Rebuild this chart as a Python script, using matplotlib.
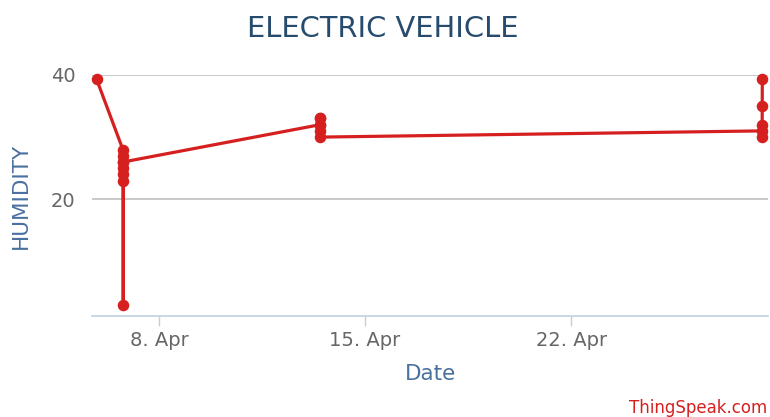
import pandas as pd
import matplotlib
matplotlib.use("Agg")
import matplotlib.pyplot as plt

# humidity readings
times = pd.to_datetime([
    "2023-04-05 21:05",
    "2023-04-06 18:30", "2023-04-06 18:33", "2023-04-06 18:36",
    "2023-04-06 18:39", "2023-04-06 18:42", "2023-04-06 18:45",
    "2023-04-06 18:48", "2023-04-06 18:51",
    "2023-04-13 11:20", "2023-04-13 11:23", "2023-04-13 11:26",
    "2023-04-13 11:29", "2023-04-13 11:32", "2023-04-13 11:35",
    "2023-04-28 11:40", "2023-04-28 11:43", "2023-04-28 11:46",
    "2023-04-28 11:49", "2023-04-28 11:52",
])
humidity = [39.3,
            28, 27, 26, 25, 24, 23, 3, 26,
            32, 33, 33, 32, 31, 30,
            31, 30, 32, 35, 39.3]

tick_dates = pd.to_datetime(["2023-04-08", "2023-04-15", "2023-04-22"])
tick_labels = ["8. Apr", "15. Apr", "22. Apr"]
y_ticks = [20, 40]

fig = plt.figure(figsize=(7.7, 4.17), dpi=100)
ax = fig.add_axes([0.1195, 0.2422, 0.878, 0.578])

ax.plot(times, humidity, color="#d62020", linewidth=2.3, marker="o",
        markersize=7.3, zorder=3, clip_on=False)

ax.set_xlim(pd.Timestamp("2023-04-05 17:20"), pd.Timestamp("2023-04-28 16:35"))
ax.set_ylim(1.2, 40)
ax.set_yticks(y_ticks)
ax.set_xticks(tick_dates)
ax.set_xticklabels(tick_labels)

ax.grid(axis="y", color="#c0c0c0", linewidth=1.2)
ax.set_axisbelow(True)
for s in ["top", "right", "left"]:
    ax.spines[s].set_visible(False)
ax.spines["bottom"].set_color("#c0d0e0")
ax.spines["bottom"].set_linewidth(1.2)

ax.tick_params(axis="y", length=0, pad=12, labelsize=14, labelcolor="#666666")
ax.tick_params(axis="x", length=7, width=1, color="#c0d0e0", pad=4,
               labelsize=14, labelcolor="#666666")

ax.set_xlabel("Date", fontsize=15.5, color="#4a70a0", labelpad=10)
ax.set_ylabel("HUMIDITY", fontsize=15.5, color="#4a70a0", labelpad=14)

fig.text(0.497, 0.93, "ELECTRIC VEHICLE", ha="center", va="center",
         fontsize=20.8, color="#274b6d")
fig.text(0.997, 0.022, "ThingSpeak.com", ha="right", va="center",
         fontsize=12, color="#d62020")

fig.savefig("out.png", dpi=100)
